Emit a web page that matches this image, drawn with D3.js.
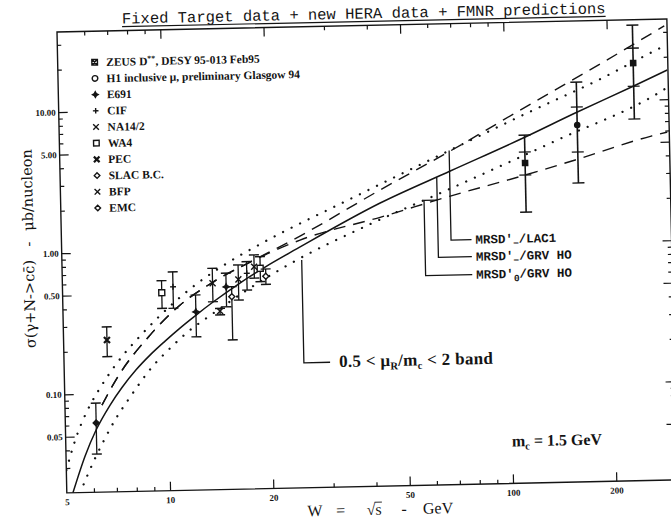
<!DOCTYPE html>
<html>
<head>
<meta charset="utf-8">
<title>Charm photoproduction: fixed target, HERA and FMNR predictions</title>
<script src="https://cdn.jsdelivr.net/npm/d3@7/dist/d3.min.js"></script>
<style>
  html, body { margin: 0; padding: 0; background: #ffffff; }
  svg { display: block; }
</style>
</head>
<body>
<svg id="chart" width="671" height="520"></svg>
<script>
// ---------------- data ----------------
// axis ticks
const xTickValues = [5, 10, 20, 50, 100, 200];
const xMajorTicks = [10, 20, 50, 100, 200];
const xMinorTicks = [6, 7, 8, 9, 30, 40, 60, 70, 80, 90];
const yTickValues = [0.05, 0.1, 0.5, 1, 5, 10];
const yMinorTicks = [0.03, 0.04, 0.06, 0.07, 0.08, 0.09, 0.2, 0.3, 0.4, 0.6, 0.7, 0.8, 0.9,
                     2, 3, 4, 6, 7, 8, 9, 20, 30];

// legend entries
const legendKeys = ["ZEUS", "H1", "E691", "CIF", "NA14/2", "WA4", "PEC", "SLAC B.C.", "BFP", "EMC"];
const legendLabels = ["ZEUS D**, DESY 95-013 Feb95", "H1 inclusive \u03bc, preliminary Glasgow 94",
                      "E691", "CIF", "NA14/2", "WA4", "PEC", "SLAC B.C.", "BFP", "EMC"];

// FMNR predictions, W in GeV, sigma in microbarn
const grvW     = [5.21, 5.68, 6.14, 6.77, 7.36, 8.10, 8.91, 9.88, 10.94, 12.21, 13.71, 16.14, 19.54, 24.28, 42.67, 68.6, 112.4, 160, 237, 298.5];
const grvSigma = [0.0200, 0.0362, 0.0552, 0.0826, 0.110, 0.1455, 0.184, 0.230, 0.283, 0.348, 0.428, 0.560, 0.744, 0.993, 2.03, 3.34, 5.58, 8.24, 12.5, 16.1];

const bandUpW     = [5.0, 5.21, 5.44, 5.92, 6.34, 7.13, 8.47, 10.12, 12.18, 15.15, 19.21, 34.9, 68.8, 115.9, 190, 285.8, 298];
const bandUpSigma = [0.0290, 0.0401, 0.0537, 0.0831, 0.1093, 0.1634, 0.260, 0.394, 0.568, 0.804, 1.10, 2.19, 4.70, 8.38, 14.2, 23.1, 24.2];

const bandLowW     = [5.46, 5.78, 6.12, 6.47, 6.98, 7.75, 9.02, 10.07, 11.70, 13.23, 17.61, 23.6, 39.8, 67.0, 141.2, 285.8, 296];
const bandLowSigma = [0.0198, 0.0270, 0.0361, 0.0467, 0.0645, 0.0934, 0.1513, 0.198, 0.273, 0.336, 0.531, 0.799, 1.445, 2.45, 5.33, 11.4, 12.0];

const lac1W     = [6.41, 7.12, 8.94, 10.99, 13.75, 17.68, 24.8, 42.7, 68.8, 116, 190.6, 294.5];
const lac1Sigma = [0.0828, 0.128, 0.255, 0.412, 0.593, 0.811, 1.218, 2.51, 4.63, 9.39, 18.2, 33.1];

const mrsd0W     = [6.41, 7.12, 8.94, 10.99, 13.75, 17.68, 24.8, 42.8, 68.4, 113.4, 159, 265.6, 296];
const mrsd0Sigma = [0.0828, 0.128, 0.255, 0.412, 0.593, 0.811, 1.141, 1.615, 2.22, 3.05, 3.83, 5.51, 5.85];

// measurements
const pointSeries = ["SLAC B.C.", "PEC", "WA4", "CIF", "E691", "NA14/2", "BFP", "E691", "EMC", "BFP", "CIF", "NA14/2", "WA4", "EMC", "ZEUS", "H1", "ZEUS"];
const pointW      = [6.15, 6.69, 9.73, 10.5, 12.2, 13.7, 14.35, 15.0, 15.56, 16.3, 17.26, 18.15, 18.9, 19.6, 113.5, 161.9, 237.8];
const pointSigma  = [0.062, 0.239, 0.507, 0.556, 0.367, 0.581, 0.368, 0.546, 0.464, 0.614, 0.676, 0.750, 0.730, 0.64, 3.71, 6.77, 18.25];
const pointLow    = [0.0373, 0.182, 0.393, 0.392, 0.244, 0.43, 0.346, 0.394, 0.229, 0.438, 0.514, 0.623, 0.587, 0.56, 1.665, 2.63, 7.32];
const pointHigh   = [0.0857, 0.296, 0.617, 0.71, 0.483, 0.742, 0.385, 0.683, 0.546, 0.777, 0.817, 0.910, 0.882, 0.72, 5.85, 13.65, 33.9];
const statLow     = [null, null, null, null, null, null, null, null, null, null, null, null, null, null, 3.05, 4.36, 12.5];
const statHigh    = [null, null, null, null, null, null, null, null, null, null, null, null, null, null, 4.44, 9.08, 23.3];

// curve annotations: W of the leader line and the cross section it points to
const noteW     = [68.3, 62.6, 57.3];
const noteSigma = [4.67, 3.03, 2.09];
const bandNoteW = 25;
const bandNoteSigma = 0.85;

// ---------------- drawing ----------------
const INK = "#141414";
const SERIF = "'Liberation Serif', 'Times New Roman', serif";
const DEJAVU = "'DejaVu Serif', serif";
const MONO = "'Liberation Mono', 'Courier New', monospace";

const svg = d3.select("#chart");
// the whole sheet sits slightly tilted
const root = svg.append("g").attr("transform", "rotate(-1.22,57,32)");

const x = d3.scaleLog().domain([5, 300]).range([57, 667]);
const y = d3.scaleLog().domain([0.02, 37]).range([493, 32]);
const [x0, x1] = x.range();
const [y0, y1] = y.range();

svg.append("defs").append("clipPath").attr("id", "plotClip")
  .append("rect").attr("x", x0).attr("y", y1).attr("width", x1 - x0).attr("height", y0 - y1);

// ---- axes ----
function tidy(sel) {
  sel.select(".domain").remove();
  sel.selectAll(".tick line").attr("stroke", INK).attr("stroke-width", 1.2);
  sel.selectAll(".tick text")
    .attr("fill", INK)
    .attr("font-family", SERIF)
    .attr("font-weight", "bold")
    .attr("font-size", 9);
}
const blank = () => "";
const axes = root.append("g");

axes.append("g").attr("transform", `translate(0,${y0})`)
  .call(d3.axisBottom(x).tickValues(xMajorTicks).tickSize(-9).tickFormat(blank)).call(tidy);
axes.append("g").attr("transform", `translate(0,${y0})`)
  .call(d3.axisBottom(x).tickValues(xMinorTicks).tickSize(-4).tickFormat(blank)).call(tidy);
axes.append("g").attr("transform", `translate(0,${y0})`)
  .call(d3.axisBottom(x).tickValues(xTickValues).tickSize(0).tickPadding(6).tickFormat(d3.format("d"))).call(tidy);

axes.append("g").attr("transform", `translate(0,${y1})`)
  .call(d3.axisTop(x).tickValues(xMajorTicks).tickSize(-9).tickFormat(blank)).call(tidy);
axes.append("g").attr("transform", `translate(0,${y1})`)
  .call(d3.axisTop(x).tickValues(xMinorTicks).tickSize(-4).tickFormat(blank)).call(tidy);

axes.append("g").attr("transform", `translate(${x0},0)`)
  .call(d3.axisLeft(y).tickValues(yTickValues).tickSize(-9).tickFormat(blank)).call(tidy);
axes.append("g").attr("transform", `translate(${x0},0)`)
  .call(d3.axisLeft(y).tickValues(yMinorTicks).tickSize(-4).tickFormat(blank)).call(tidy);
axes.append("g").attr("transform", `translate(${x0},0)`)
  .call(d3.axisLeft(y).tickValues(yTickValues).tickSize(0).tickPadding(3).tickFormat(d3.format(".2f"))).call(tidy);

axes.append("g").attr("transform", `translate(${x1},0)`)
  .call(d3.axisRight(y).tickValues(yTickValues).tickSize(-9).tickFormat(blank)).call(tidy);
axes.append("g").attr("transform", `translate(${x1},0)`)
  .call(d3.axisRight(y).tickValues(yMinorTicks).tickSize(-4).tickFormat(blank)).call(tidy);

root.append("rect")
  .attr("x", x0).attr("y", y1).attr("width", x1 - x0).attr("height", y0 - y1)
  .attr("fill", "none").attr("stroke", INK).attr("stroke-width", 1.4);

// ---- prediction curves ----
const line = d3.line().x(d => x(d[0])).y(d => y(d[1])).curve(d3.curveMonotoneX);
const curveDefs = [
  { w: bandUpW,  s: bandUpSigma,  kind: "dot" },
  { w: bandLowW, s: bandLowSigma, kind: "dot" },
  { w: lac1W,    s: lac1Sigma,    kind: "dash" },
  { w: mrsd0W,   s: mrsd0Sigma,   kind: "dash" },
  { w: grvW,     s: grvSigma,     kind: "solid" }
];
const curveLayer = root.append("g").attr("clip-path", "url(#plotClip)");
curveDefs.forEach(c => {
  const path = curveLayer.append("path")
    .attr("d", line(d3.zip(c.w, c.s)))
    .attr("fill", "none")
    .attr("stroke", INK);
  if (c.kind === "dot") {
    path.attr("stroke-width", 2.3).attr("stroke-linecap", "round").attr("stroke-dasharray", "0.01 9.5");
  } else if (c.kind === "dash") {
    path.attr("stroke-width", 1.4).attr("stroke-dasharray", "12 8");
  } else {
    path.attr("stroke-width", 1.5);
  }
});

// ---- markers ----
const markerShape = {
  "ZEUS": "boxx", "H1": "circle", "E691": "star4", "CIF": "plus", "NA14/2": "cross",
  "WA4": "square", "PEC": "crossBold", "SLAC B.C.": "diamond", "BFP": "cross", "EMC": "diamond"
};
function markerPath(shape, r) {
  switch (shape) {
    case "square":  return `M${-r},${-r}H${r}V${r}H${-r}Z`;
    case "boxx":    return `M${-r},${-r}H${r}V${r}H${-r}ZM${-r},${-r}L${r},${r}M${r},${-r}L${-r},${r}`;
    case "circle":  return `M${r},0A${r},${r} 0 1 1 ${-r},0A${r},${r} 0 1 1 ${r},0Z`;
    case "diamond": return `M0,${-r}L${r},0L0,${r}L${-r},0Z`;
    case "plus":    return `M${-r},0H${r}M0,${-r}V${r}`;
    case "star4": { const k = 0.35 * r;
      return `M0,${-r}L${k},${-k}L${r},0L${k},${k}L0,${r}L${-k},${k}L${-r},0L${-k},${-k}Z`; }
    default:        return `M${-r},${-r}L${r},${r}M${r},${-r}L${-r},${r}`;
  }
}
function drawMarker(sel, series, r, filled) {
  const shape = markerShape[series];
  const open = ["square", "boxx", "circle", "diamond"].includes(shape);
  sel.append("path")
    .attr("d", markerPath(shape, r))
    .attr("fill", shape === "star4" ? INK : (open ? (filled ? INK : "#fff") : "none"))
    .attr("stroke", INK)
    .attr("stroke-width", shape === "crossBold" ? 2.2 : 1.4);
}

// ---- measurements with error bars ----
const pts = root.append("g");
pointW.forEach((w, i) => {
  const px = x(w);
  const hera = w > 50;
  const cap = hera ? 6 : 5;
  const g = pts.append("g");
  g.append("line").attr("x1", px).attr("x2", px)
    .attr("y1", y(pointLow[i])).attr("y2", y(pointHigh[i]))
    .attr("stroke", INK).attr("stroke-width", hera ? 1.6 : 1.3);
  [pointLow[i], pointHigh[i], statLow[i], statHigh[i]].forEach(v => {
    if (v == null) return;
    g.append("line").attr("x1", px - cap).attr("x2", px + cap)
      .attr("y1", y(v)).attr("y2", y(v))
      .attr("stroke", INK).attr("stroke-width", 1.4);
  });
  const m = g.append("g").attr("transform", `translate(${px},${y(pointSigma[i])})`);
  drawMarker(m, pointSeries[i], hera ? 2.6 : 3, hera || pointSeries[i] === "SLAC B.C.");
});

// ---- legend ----
const legend = root.append("g");
legendKeys.forEach((k, i) => {
  const ly = 63 + i * 16.2;
  const m = legend.append("g").attr("transform", `translate(94,${ly})`);
  drawMarker(m, k, 2.8, false);
  const t = legend.append("text")
    .attr("x", 105.5).attr("y", ly + 4)
    .attr("font-family", SERIF).attr("font-weight", "bold").attr("font-size", 11.5)
    .attr("fill", INK);
  const label = legendLabels[i];
  if (label.includes("**")) {
    const [a, b] = label.split("**");
    t.append("tspan").text(a);
    t.append("tspan").attr("dy", -4).attr("font-size", 8).text("**");
    t.append("tspan").attr("dy", 4).text(b);
  } else {
    t.text(label);
  }
});

// ---- leader lines and curve names ----
const notes = root.append("g").attr("stroke", INK).attr("stroke-width", 1.3).attr("fill", "none");
const labelX = 471;
const noteRows = [248.5, 265.5, 283.5];
const noteNames = [["MRSD'", "\u2212", "/LAC1"], ["MRSD'", "\u2212", "/GRV HO"], ["MRSD'", "0", "/GRV HO"]];
noteW.forEach((w, i) => {
  const px = x(w);
  const top = y(noteSigma[i]);
  const pts2 = [[px, top], [px, noteRows[i]], [labelX - 4, noteRows[i]]];
  if (i === 2) pts2.unshift([x(noteW[1]), top]);
  notes.append("path").attr("d", d3.line()(pts2));
  const t = root.append("text")
    .attr("x", labelX).attr("y", noteRows[i] + 4)
    .attr("font-family", MONO).attr("font-weight", "bold").attr("font-size", 12.5)
    .attr("fill", INK);
  t.append("tspan").text(noteNames[i][0]);
  t.append("tspan").attr("dy", 3.5).attr("font-size", 9.5).text(noteNames[i][1]);
  t.append("tspan").attr("dy", -3.5).text(noteNames[i][2]);
});

// scale band annotation
const bx = x(bandNoteW);
const bandRow = 368;
notes.append("path").attr("d", d3.line()([[bx, y(bandNoteSigma) + 2], [bx, bandRow], [323, bandRow]]));
const bt = root.append("text")
  .attr("x", 332).attr("y", bandRow + 5)
  .attr("font-family", SERIF).attr("font-weight", "bold").attr("font-size", 17)
  .attr("letter-spacing", 0.3)
  .attr("fill", INK);
bt.append("tspan").text("0.5 < \u03bc");
bt.append("tspan").attr("dy", 3.5).attr("font-size", 10.5).text("R");
bt.append("tspan").attr("dy", -3.5).text("/m");
bt.append("tspan").attr("dy", 3.5).attr("font-size", 10.5).text("c");
bt.append("tspan").attr("dy", -3.5).text(" < 2 band");

// charm mass
const mt = root.append("text")
  .attr("x", 503).attr("y", 456)
  .attr("font-family", SERIF).attr("font-weight", "bold").attr("font-size", 16)
  .attr("fill", INK);
mt.append("tspan").text("m");
mt.append("tspan").attr("dy", 3.5).attr("font-size", 10.5).text("c");
mt.append("tspan").attr("dy", -3.5).text(" = 1.5 GeV");

// ---- title ----
const title = root.append("text")
  .attr("x", 364).attr("y", 25)
  .attr("text-anchor", "middle")
  .attr("font-family", MONO).attr("font-size", 15.5)
  .attr("fill", INK)
  .text("Fixed Target data + new HERA data + FMNR predictions");
const tw = title.node().getComputedTextLength();
root.append("line")
  .attr("x1", 364 - tw / 2).attr("x2", 364 + tw / 2)
  .attr("y1", 28).attr("y2", 28)
  .attr("stroke", INK).attr("stroke-width", 1.2);

// ---- x axis title ----
const xBase = 521.5;
const xTitleParts = [["W", 304.8], ["=", 330.3], ["-", 393.8], ["GeV", 427.8]];
xTitleParts.forEach(([s, px]) => {
  root.append("text").attr("x", px).attr("y", xBase)
    .attr("text-anchor", "middle")
    .attr("font-family", SERIF).attr("font-size", 16).attr("fill", INK)
    .text(s);
});
const rootText = root.append("text").attr("x", 363.8).attr("y", xBase)
  .attr("text-anchor", "middle")
  .attr("font-family", SERIF).attr("font-size", 16).attr("fill", INK)
  .text("\u221as");
{
  const node = rootText.node();
  const full = node.getComputedTextLength();
  const rad = node.getSubStringLength(0, 1);
  const start = 363.8 - full / 2;
  root.append("line")
    .attr("x1", start + rad - 0.6).attr("x2", start + full + 0.5)
    .attr("y1", xBase - 12.6).attr("y2", xBase - 12.6)
    .attr("stroke", INK).attr("stroke-width", 0.9);
}

// ---- y axis title ----
const yTitleParts = [["\u03c3(\u03b3+N->cc\u0304)", 303.4], ["-", 243.4], ["\u03bcb/nucleon", 189.4]];
yTitleParts.forEach(([s, py]) => {
  root.append("text")
    .attr("transform", `translate(29,${py}) rotate(-90)`)
    .attr("text-anchor", "middle")
    .attr("font-family", DEJAVU).attr("font-size", 14.5).attr("fill", INK)
    .text(s);
});
</script>
</body>
</html>
